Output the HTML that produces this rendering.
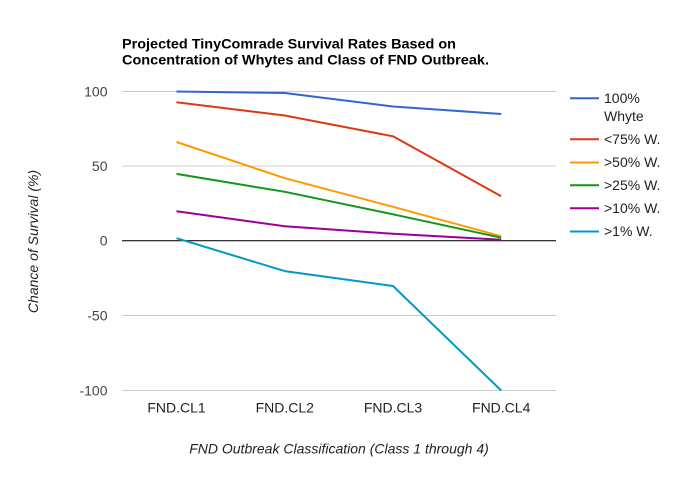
<!DOCTYPE html>
<html>
<head>
<meta charset="utf-8">
<style>
html,body{margin:0;padding:0;background:#fff;}
svg{display:block;}
text{font-family:"Liberation Sans",Arial,sans-serif;}
</style>
</head>
<body>
<svg width="698" height="480" viewBox="0 0 698 480" xmlns="http://www.w3.org/2000/svg">
<rect x="0" y="0" width="698" height="480" fill="#ffffff"/>
<!-- title -->
<text x="122" y="48.5" font-size="14.2" font-weight="bold" fill="#000" textLength="334" lengthAdjust="spacingAndGlyphs">Projected TinyComrade Survival Rates Based on</text>
<text x="122" y="64.5" font-size="14.2" font-weight="bold" fill="#000" textLength="367" lengthAdjust="spacingAndGlyphs">Concentration of Whytes and Class of FND Outbreak.</text>
<!-- gridlines -->
<rect x="122" y="91" width="434" height="1" fill="#cccccc"/>
<rect x="122" y="165.5" width="434" height="1" fill="#cccccc"/>
<rect x="122" y="315" width="434" height="1" fill="#cccccc"/>
<rect x="122" y="390" width="434" height="1" fill="#cccccc"/>
<rect x="122" y="240" width="434" height="1.3" fill="#333333"/>
<!-- y tick labels -->
<g font-size="14" fill="#444" text-anchor="end">
<text x="107.5" y="96.5">100</text>
<text x="107.5" y="171">50</text>
<text x="107.5" y="245.5">0</text>
<text x="107.5" y="320.5">-50</text>
<text x="107.5" y="395.5">-100</text>
</g>
<!-- x labels -->
<g font-size="14" fill="#222" text-anchor="middle">
<text x="176.5" y="412.3">FND.CL1</text>
<text x="284.8" y="412.3">FND.CL2</text>
<text x="393" y="412.3">FND.CL3</text>
<text x="501.2" y="412.3">FND.CL4</text>
</g>
<!-- axis titles -->
<text x="339" y="453.3" font-size="14" font-style="italic" fill="#222" text-anchor="middle">FND Outbreak Classification (Class 1 through 4)</text>
<text transform="translate(38,241.5) rotate(-90)" x="0" y="0" font-size="14" font-style="italic" fill="#222" text-anchor="middle">Chance of Survival (%)</text>
<!-- series -->
<g fill="none" stroke-width="2" stroke-linejoin="round">
<polyline stroke="#3366cc" points="176.5,91.5 284.8,93 393,106.5 501.2,114"/>
<polyline stroke="#dc3912" points="176.5,102.2 284.8,115.5 393,136.3 501.2,196.2"/>
<polyline stroke="#ff9900" points="176.5,142 284.8,178.2 393,206.8 501.2,236.2"/>
<polyline stroke="#109618" points="176.5,173.9 284.8,191.8 393,214.3 501.2,237.7"/>
<polyline stroke="#990099" points="176.5,211.3 284.8,226.3 393,233.8 501.2,239.7"/>
<polyline stroke="#0099c6" points="176.5,238.2 284.8,271.1 393,286 501.2,390.5"/>
</g>
<!-- legend -->
<g stroke-width="2">
<line x1="570" y1="98.3" x2="599" y2="98.3" stroke="#3366cc"/>
<line x1="570" y1="139.3" x2="599" y2="139.3" stroke="#dc3912"/>
<line x1="570" y1="162.5" x2="599" y2="162.5" stroke="#ff9900"/>
<line x1="570" y1="185.2" x2="599" y2="185.2" stroke="#109618"/>
<line x1="570" y1="208.3" x2="599" y2="208.3" stroke="#990099"/>
<line x1="570" y1="231.5" x2="599" y2="231.5" stroke="#0099c6"/>
</g>
<g font-size="14" fill="#222">
<text x="604" y="103">100%</text>
<text x="604" y="121">Whyte</text>
<text x="604" y="144">&lt;75% W.</text>
<text x="604" y="167.2">&gt;50% W.</text>
<text x="604" y="189.9">&gt;25% W.</text>
<text x="604" y="213">&gt;10% W.</text>
<text x="604" y="236.2">&gt;1% W.</text>
</g>
</svg>
</body>
</html>
